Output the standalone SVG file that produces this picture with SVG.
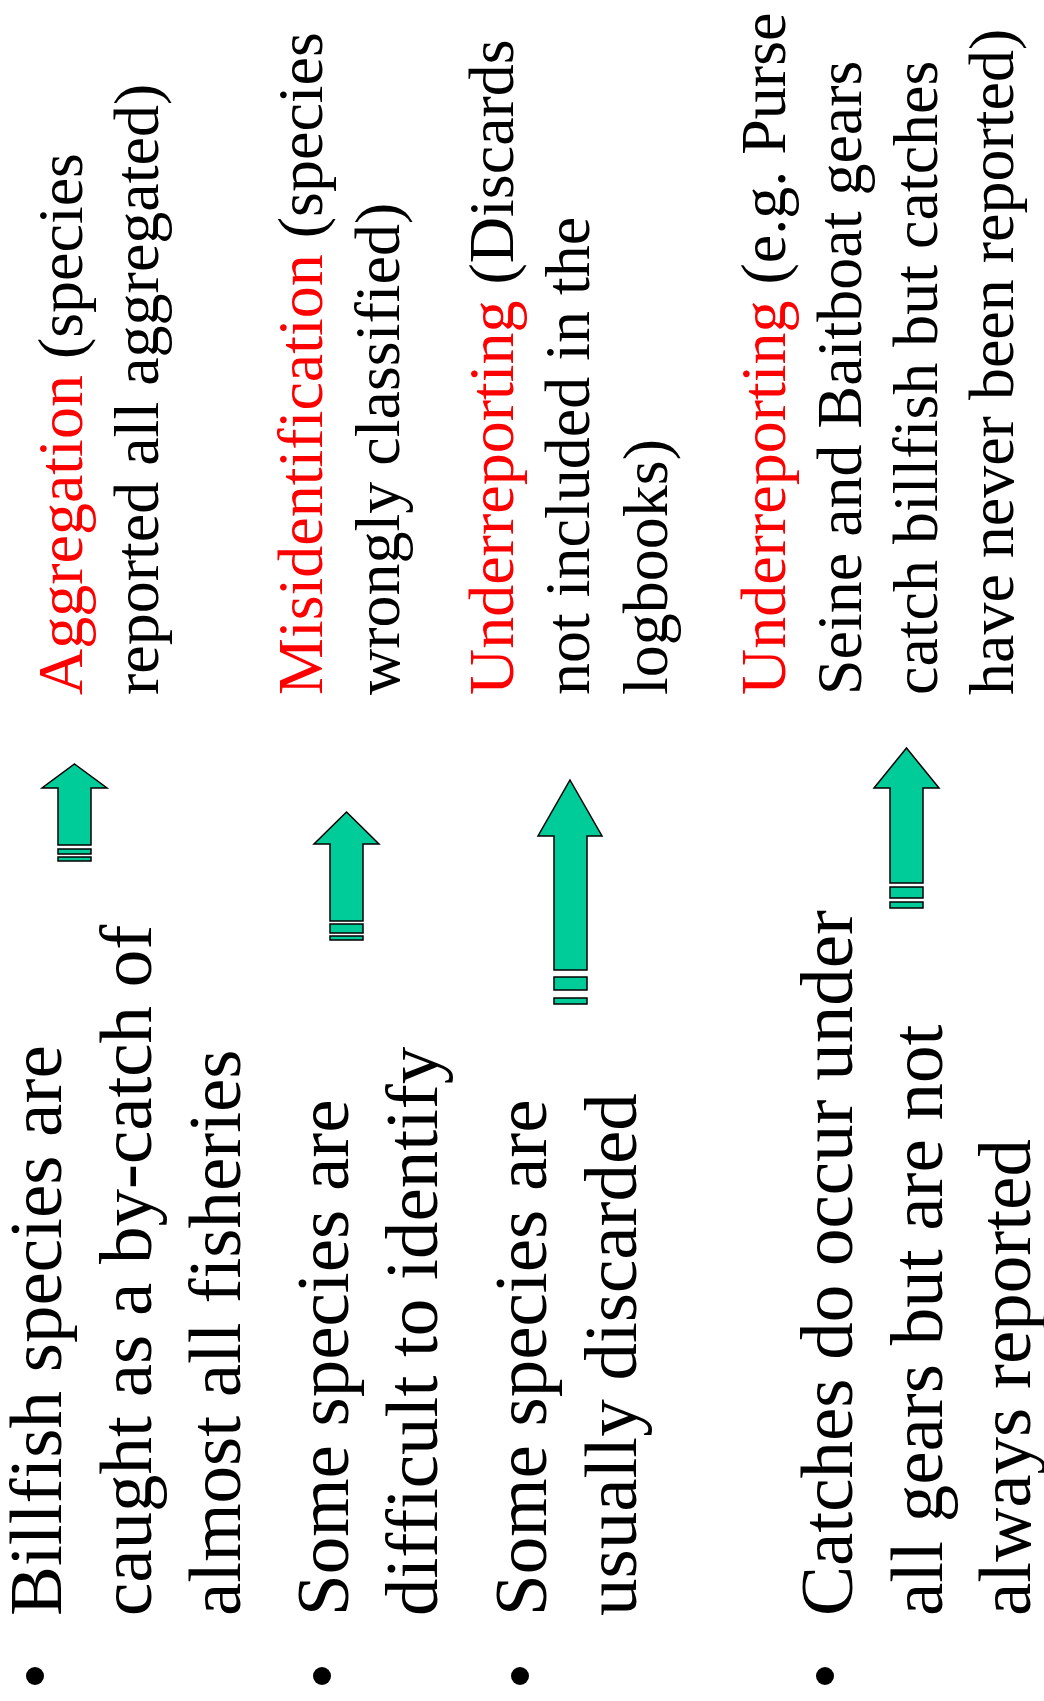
<svg xmlns="http://www.w3.org/2000/svg" width="1044" height="1701" viewBox="0 0 1044 1701">
<style>
.l{font-family:"Liberation Serif","Times New Roman",serif;font-size:75px;fill:#000}
.r{font-family:"Liberation Serif","Times New Roman",serif;font-size:64px;fill:#000}
.red{fill:#FF0000}
.arr{fill:#00CC99;stroke:#000;stroke-width:1.5;stroke-linejoin:miter}
.bul{fill:#000}
</style>
<rect width="1044" height="1701" fill="#fff"/>
<g id="bullets">
<circle class="bul" cx="35" cy="1676" r="9"/>
<circle class="bul" cx="322" cy="1676" r="9"/>
<circle class="bul" cx="520" cy="1676" r="9"/>
<circle class="bul" cx="825" cy="1676" r="9"/>
</g>
<g id="cause1" transform="rotate(-90)">
<text class="l" x="-1616" y="61">Billfish species are</text>
<text class="l" x="-1616" y="151">caught as a by-catch of</text>
<text class="l" x="-1616" y="240">almost all fisheries</text>
</g>
<g id="cause2" transform="rotate(-90)">
<text class="l" x="-1616" y="348">Some species are</text>
<text class="l" x="-1616" y="437">difficult to identify</text>
</g>
<g id="cause3" transform="rotate(-90)">
<text class="l" x="-1616" y="546">Some species are</text>
<text class="l" x="-1616" y="636">usually discarded</text>
</g>
<g id="cause4" transform="rotate(-90)">
<text class="l" x="-1616" y="852">Catches do occur under</text>
<text class="l" x="-1616" y="942">all gears but are not</text>
<text class="l" x="-1616" y="1030">always reported</text>
</g>
<g id="effect1" transform="rotate(-90)">
<text class="r" x="-695" y="82"><tspan class="red">Aggregation</tspan> (species</text>
<text class="r" x="-695" y="158">reported all aggregated)</text>
</g>
<g id="effect2" transform="rotate(-90)">
<text class="r" x="-695" y="322"><tspan class="red">Misidentification</tspan> (species</text>
<text class="r" x="-695" y="399">wrongly classified)</text>
</g>
<g id="effect3" transform="rotate(-90)">
<text class="r" x="-695" y="513"><tspan class="red">Underreporting</tspan> (Discards</text>
<text class="r" x="-695" y="589">not included in the</text>
<text class="r" x="-695" y="667">logbooks)</text>
</g>
<g id="effect4" transform="rotate(-90)">
<text class="r" x="-695" y="785"><tspan class="red">Underreporting</tspan> (e.g. Purse</text>
<text class="r" x="-695" y="861">Seine and Baitboat gears</text>
<text class="r" x="-695" y="937">catch billfish but catches</text>
<text class="r" x="-695" y="1013">have never been reported)</text>
</g>
<g id="connectors">
<g id="arrow1">
<polygon class="arr" points="74.5,764 107,788 91,788 91,845 58,845 58,788 42,788"/>
<rect class="arr" x="58" y="849" width="33" height="5"/>
<rect class="arr" x="58" y="857" width="33" height="4"/>
</g>
<g id="arrow2">
<polygon class="arr" points="346.5,812 379,844 363,844 363,921 330,921 330,844 314,844"/>
<rect class="arr" x="330" y="924" width="33" height="9"/>
<rect class="arr" x="330" y="936" width="33" height="4"/>
</g>
<g id="arrow3">
<polygon class="arr" points="570,780 602,836 587,836 587,970 554,970 554,836 538,836"/>
<rect class="arr" x="554" y="977" width="33" height="13"/>
<rect class="arr" x="554" y="998" width="33" height="6"/>
</g>
<g id="arrow4">
<polygon class="arr" points="906.5,748 939,788 923,788 923,883 890,883 890,788 874,788"/>
<rect class="arr" x="890" y="887" width="33" height="11"/>
<rect class="arr" x="890" y="902" width="33" height="6"/>
</g>
</g>
</svg>
